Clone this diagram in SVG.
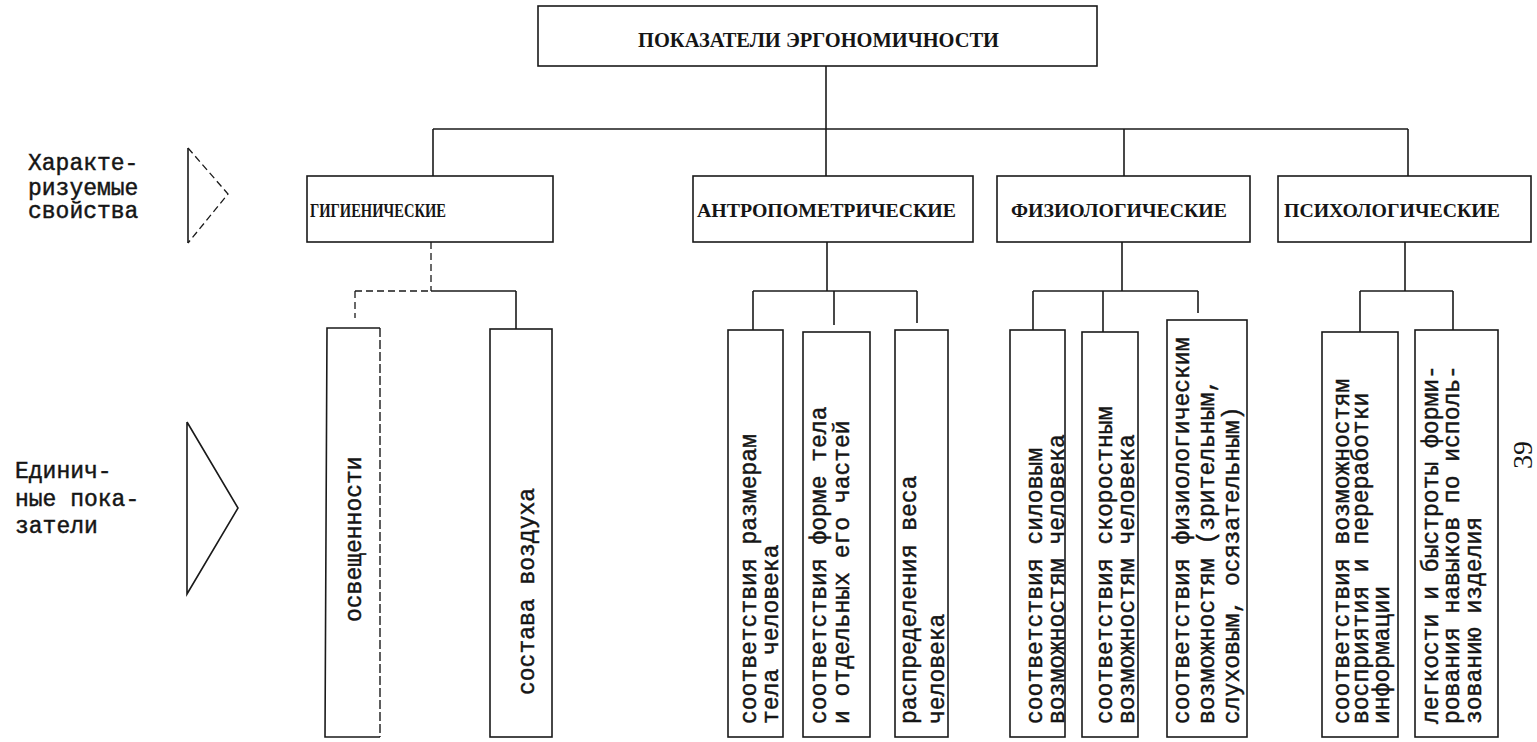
<svg xmlns="http://www.w3.org/2000/svg" width="1537" height="742" viewBox="0 0 1537 742">
<style>
.box{fill:none;stroke:#1a1a1a;stroke-width:1.6}
.dbox{fill:none;stroke:#1a1a1a;stroke-width:1.4;stroke-dasharray:9 3}
.ln{fill:none;stroke:#1a1a1a;stroke-width:1.6}
.dl{fill:none;stroke:#1a1a1a;stroke-width:1.3;stroke-dasharray:7 4}
.hd{font-family:"Liberation Serif","DejaVu Serif",serif;font-weight:bold;fill:#151515}
.tw{font-family:"Liberation Mono","DejaVu Sans Mono",monospace;font-size:23px;fill:#151515;stroke:#151515;stroke-width:0.45}
</style>
<rect width="1537" height="742" fill="#ffffff"/>

<g id="connectors">
  <line class="ln" x1="826" y1="66" x2="826" y2="129"/>
  <line class="ln" x1="433" y1="129" x2="1408" y2="129"/>
  <line class="ln" x1="433" y1="129" x2="433" y2="176"/>
  <line class="ln" x1="826" y1="129" x2="826" y2="176"/>
  <line class="ln" x1="1124" y1="129" x2="1124" y2="176"/>
  <line class="ln" x1="1408" y1="129" x2="1408" y2="176"/>
  <line class="dl" x1="431" y1="242" x2="431" y2="291"/>
  <line class="dl" x1="355" y1="291" x2="431" y2="291"/>
  <line class="ln" x1="431" y1="291" x2="516" y2="291"/>
  <line class="dl" x1="355" y1="291" x2="355" y2="318"/>
  <line class="ln" x1="516" y1="291" x2="516" y2="329"/>
  <line class="ln" x1="827" y1="242" x2="827" y2="291"/>
  <line class="ln" x1="753" y1="291" x2="917" y2="291"/>
  <line class="ln" x1="753" y1="291" x2="753" y2="330"/>
  <line class="ln" x1="834" y1="291" x2="834" y2="325"/>
  <line class="ln" x1="917" y1="291" x2="917" y2="323"/>
  <line class="ln" x1="1122" y1="242" x2="1122" y2="291"/>
  <line class="ln" x1="1033" y1="291" x2="1198" y2="291"/>
  <line class="ln" x1="1033" y1="291" x2="1033" y2="330"/>
  <line class="ln" x1="1103" y1="291" x2="1103" y2="332"/>
  <line class="ln" x1="1198" y1="291" x2="1198" y2="313"/>
  <line class="ln" x1="1405" y1="242" x2="1405" y2="291"/>
  <line class="ln" x1="1360" y1="291" x2="1453" y2="291"/>
  <line class="ln" x1="1360" y1="291" x2="1360" y2="332"/>
  <line class="ln" x1="1453" y1="291" x2="1453" y2="330"/>
</g>

<g id="legend-properties">
  <text class="tw" x="28" y="170">Характе-</text>
  <text class="tw" x="28" y="195">ризуемые</text>
  <text class="tw" x="28" y="218">свойства</text>
  <line class="ln" x1="188" y1="148" x2="188" y2="243"/>
  <polyline class="dl" points="188,148 228,194 188,243"/>
</g>

<g id="legend-indicators">
  <text class="tw" x="15" y="478">Единич-</text>
  <text class="tw" x="15" y="506">ные пока-</text>
  <text class="tw" x="15" y="533">затели</text>
  <polyline class="ln" points="187,422 238,508 187,594 187,422"/>
</g>

<g id="root">
  <rect class="box" x="538" y="6" width="559" height="60"/>
  <text class="hd" x="638" y="47" font-size="21" textLength="361" lengthAdjust="spacingAndGlyphs">ПОКАЗАТЕЛИ ЭРГОНОМИЧНОСТИ</text>
</g>

<g id="cat-hygienic">
  <rect class="box" x="307" y="176" width="246" height="66"/>
  <text class="hd" x="310" y="217" font-size="18" textLength="136" lengthAdjust="spacingAndGlyphs">ГИГИЕНИЧЕСКИЕ</text>
</g>
<g id="cat-anthropometric">
  <rect class="box" x="693" y="176" width="280" height="66"/>
  <text class="hd" x="697" y="217" font-size="18" textLength="259" lengthAdjust="spacingAndGlyphs">АНТРОПОМЕТРИЧЕСКИЕ</text>
</g>
<g id="cat-physiological">
  <rect class="box" x="997" y="176" width="253" height="66"/>
  <text class="hd" x="1011" y="217" font-size="18" textLength="216" lengthAdjust="spacingAndGlyphs">ФИЗИОЛОГИЧЕСКИЕ</text>
</g>
<g id="cat-psychological">
  <rect class="box" x="1278" y="176" width="253" height="66"/>
  <text class="hd" x="1284" y="217" font-size="18" textLength="216" lengthAdjust="spacingAndGlyphs">ПСИХОЛОГИЧЕСКИЕ</text>
</g>

<g id="ind-illumination">
  <path class="box" d="M380,328 L327,328 L325,737 L380,737"/>
  <line class="dbox" x1="380" y1="328" x2="380" y2="737"/>
  <text class="tw" transform="translate(361,622) rotate(-90)">освещенности</text>
</g>
<g id="ind-air">
  <rect class="box" x="490" y="329" width="62" height="408"/>
  <text class="tw" transform="translate(534,695) rotate(-90)">состава воздуха</text>
</g>

<g id="ind-body-size">
  <rect class="box" x="728" y="330" width="55" height="407"/>
  <text class="tw" transform="translate(756,724) rotate(-90)">соответствия размерам</text>
  <text class="tw" transform="translate(778,724) rotate(-90)">тела человека</text>
</g>
<g id="ind-body-shape">
  <rect class="box" x="803" y="332" width="67" height="405"/>
  <text class="tw" transform="translate(826,724) rotate(-90)">соответствия форме тела</text>
  <text class="tw" transform="translate(849,724) rotate(-90)">и отдельных его частей</text>
</g>
<g id="ind-weight">
  <rect class="box" x="895" y="330" width="53" height="407"/>
  <text class="tw" transform="translate(916,724) rotate(-90)">распределения веса</text>
  <text class="tw" transform="translate(944,724) rotate(-90)">человека</text>
</g>

<g id="ind-strength">
  <rect class="box" x="1010" y="330" width="55" height="407"/>
  <text class="tw" transform="translate(1042,724) rotate(-90)">соответствия силовым</text>
  <text class="tw" transform="translate(1064,724) rotate(-90)">возможностям человека</text>
</g>
<g id="ind-speed">
  <rect class="box" x="1082" y="332" width="56" height="405"/>
  <text class="tw" transform="translate(1112,724) rotate(-90)">соответствия скоростным</text>
  <text class="tw" transform="translate(1134,724) rotate(-90)">возможностям человека</text>
</g>
<g id="ind-physiological">
  <rect class="box" x="1167" y="320" width="80" height="417"/>
  <text class="tw" transform="translate(1189,724) rotate(-90)">соответствия физиологическим</text>
  <text class="tw" transform="translate(1214,724) rotate(-90)">возможностям (зрительным,</text>
  <text class="tw" transform="translate(1239,724) rotate(-90)">слуховым, осязательным)</text>
</g>

<g id="ind-perception">
  <rect class="box" x="1322" y="332" width="76" height="405"/>
  <text class="tw" transform="translate(1349,724) rotate(-90)">соответствия возможностям</text>
  <text class="tw" transform="translate(1368,724) rotate(-90)">восприятия и переработки</text>
  <text class="tw" transform="translate(1389,724) rotate(-90)">информации</text>
</g>
<g id="ind-skills">
  <rect class="box" x="1415" y="330" width="83" height="407"/>
  <text class="tw" transform="translate(1438,724) rotate(-90)">легкости и быстроты форми-</text>
  <text class="tw" transform="translate(1459,724) rotate(-90)">рования навыков по исполь-</text>
  <text class="tw" transform="translate(1481,724) rotate(-90)">зованию изделия</text>
</g>

<text id="page-number" font-family="Liberation Serif, serif" font-size="28" fill="#151515" text-anchor="middle" transform="translate(1532,455) rotate(-90)">39</text>
</svg>
